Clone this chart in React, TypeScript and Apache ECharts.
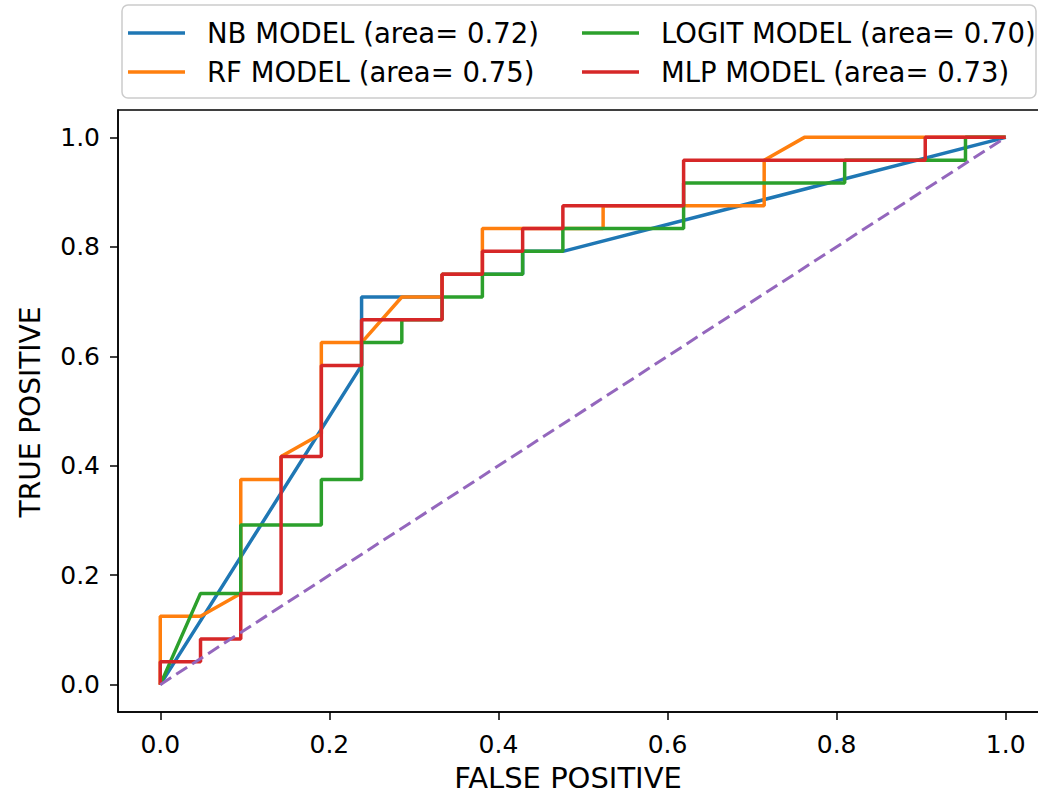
import React, { useEffect, useRef } from "react";
import * as echarts from "echarts";

const NB_NAME = "NB MODEL (area= 0.72)";
const RF_NAME = "RF MODEL (area= 0.75)";
const LOGIT_NAME = "LOGIT MODEL (area= 0.70)";
const MLP_NAME = "MLP MODEL (area= 0.73)";

const nbFpr = [0, 0.2381, 0.2381, 0.3333, 0.3333, 0.4286, 0.4286, 0.4762, 1];
const nbTpr = [0, 0.5833, 0.7083, 0.7083, 0.75, 0.75, 0.7917, 0.7917, 1];

const rfFpr = [0, 0, 0.0476, 0.0952, 0.0952, 0.1429, 0.1429, 0.1905, 0.1905, 0.2381, 0.2857, 0.3333, 0.3333, 0.381, 0.381, 0.5238, 0.5238, 0.7143, 0.7143, 0.7619, 1];
const rfTpr = [0, 0.125, 0.125, 0.1667, 0.375, 0.375, 0.4167, 0.4583, 0.625, 0.625, 0.7083, 0.7083, 0.75, 0.75, 0.8333, 0.8333, 0.875, 0.875, 0.9583, 1, 1];

const logitFpr = [0, 0.0476, 0.0952, 0.0952, 0.1905, 0.1905, 0.2381, 0.2381, 0.2857, 0.2857, 0.3333, 0.3333, 0.381, 0.381, 0.4286, 0.4286, 0.4762, 0.4762, 0.619, 0.619, 0.8095, 0.8095, 0.9524, 0.9524, 1];
const logitTpr = [0, 0.1667, 0.1667, 0.2917, 0.2917, 0.375, 0.375, 0.625, 0.625, 0.6667, 0.6667, 0.7083, 0.7083, 0.75, 0.75, 0.7917, 0.7917, 0.8333, 0.8333, 0.9167, 0.9167, 0.9583, 0.9583, 1, 1];

const mlpFpr = [0, 0, 0.0476, 0.0476, 0.0952, 0.0952, 0.1429, 0.1429, 0.1905, 0.1905, 0.2381, 0.2381, 0.3333, 0.3333, 0.381, 0.381, 0.4286, 0.4286, 0.4762, 0.4762, 0.619, 0.619, 0.9048, 0.9048, 1];
const mlpTpr = [0, 0.0417, 0.0417, 0.0833, 0.0833, 0.1667, 0.1667, 0.4167, 0.4167, 0.5833, 0.5833, 0.6667, 0.6667, 0.75, 0.75, 0.7917, 0.7917, 0.8333, 0.8333, 0.875, 0.875, 0.9583, 0.9583, 1, 1];

const chanceFpr = [0, 1];
const chanceTpr = [0, 1];

const tickValues = [0, 0.2, 0.4, 0.6, 0.8, 1.0];

const FONT = "DejaVu Sans";

function zip(xs: number[], ys: number[]) {
  return xs.map((x, i) => [x, ys[i]]);
}

export default function App() {
  const ref = useRef<HTMLDivElement>(null);
  useEffect(() => {
    if (!ref.current) return;
    const chart = echarts.init(ref.current, undefined, { renderer: "svg" });
    const lineSeries = (name: string, xs: number[], ys: number[], color: string, dashed = false) => ({
      type: "line",
      name,
      data: zip(xs, ys),
      symbol: "none",
      showSymbol: false,
      lineStyle: { color, width: dashed ? 3 : 3.5, type: dashed ? [13, 6] : "solid" },
      itemStyle: { color },
      emphasis: { disabled: true },
      z: 3,
    });
    const legendBase = {
      padding: 0,
      icon: "rect",
      itemWidth: 57,
      itemHeight: 3.5,
      selectedMode: false,
      textStyle: { fontFamily: FONT, fontSize: 27.5, color: "#000", padding: [0, 0, 0, 17], lineHeight: 30 },
    };
    const axisCommon = {
      type: "value",
      min: -0.05,
      max: 1.05,
      splitLine: { show: false },
      axisLine: { show: true, onZero: false, lineStyle: { color: "#000", width: 1.5 } },
      axisTick: { show: true, length: 8, customValues: tickValues, lineStyle: { color: "#000", width: 1.5 } },
      axisLabel: {
        customValues: tickValues,
        formatter: (v: number) => v.toFixed(1),
        fontFamily: FONT,
        fontSize: 25,
        color: "#000",
      },
    };
    chart.setOption({
      animation: false,
      backgroundColor: "#fff",
      grid: {
        left: 118,
        top: 110,
        width: 930,
        height: 602,
        show: true,
        borderColor: "#000",
        borderWidth: 1.5,
        backgroundColor: "transparent",
      },
      xAxis: { ...axisCommon, axisLabel: { ...axisCommon.axisLabel, margin: 20 } },
      yAxis: { ...axisCommon, axisLabel: { ...axisCommon.axisLabel, margin: 18 } },
      legend: [
        { ...legendBase, data: [NB_NAME], left: 128, top: 18 },
        { ...legendBase, data: [RF_NAME], left: 128, top: 57 },
        { ...legendBase, data: [LOGIT_NAME], left: 582, top: 18 },
        { ...legendBase, data: [MLP_NAME], left: 582, top: 57 },
      ],
      graphic: [
        {
          type: "rect",
          shape: { x: 122, y: 5, width: 914, height: 93, r: 6 },
          style: { fill: "rgba(255,255,255,0.8)", stroke: "#cccccc", lineWidth: 1.5 },
          z: -1,
          silent: true,
        },
        {
          type: "text",
          x: 568,
          y: 778,
          style: { text: "FALSE POSITIVE", fontFamily: FONT, fontSize: 29, fill: "#000", align: "center", verticalAlign: "middle" },
          silent: true,
        },
        {
          type: "text",
          x: 30,
          y: 412,
          rotation: Math.PI / 2,
          style: { text: "TRUE POSITIVE", fontFamily: FONT, fontSize: 28, fill: "#000", align: "center", verticalAlign: "middle" },
          silent: true,
        },
      ],
      series: [
        lineSeries(NB_NAME, nbFpr, nbTpr, "#1f77b4"),
        lineSeries(RF_NAME, rfFpr, rfTpr, "#ff7f0e"),
        lineSeries(LOGIT_NAME, logitFpr, logitTpr, "#2ca02c"),
        lineSeries(MLP_NAME, mlpFpr, mlpTpr, "#d62728"),
        lineSeries("chance", chanceFpr, chanceTpr, "#9467bd", true),
      ],
    });
    return () => chart.dispose();
  }, []);
  return (
    <div style={{ position: "fixed", left: 0, top: 0, width: 1038, height: 800, overflow: "hidden", background: "#fff" }}>
      <div ref={ref} style={{ width: 1060, height: 800 }} />
    </div>
  );
}
